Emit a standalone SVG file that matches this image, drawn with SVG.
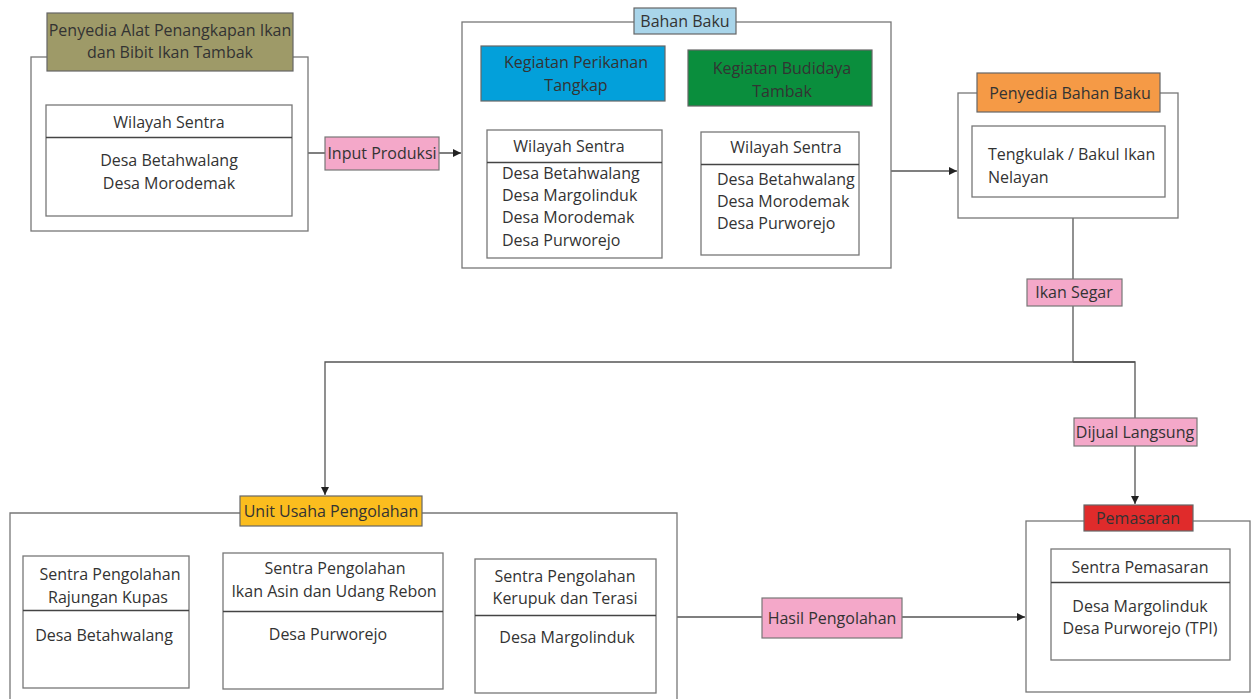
<svg xmlns="http://www.w3.org/2000/svg" width="1252" height="699" viewBox="0 0 1252 699">
<style>
text{font-family:"Open Sans","Noto Sans",sans-serif;font-size:16px;fill:#333}
.c{text-anchor:middle}
.box{fill:#fff;stroke:#777;stroke-width:1.3}
.hd{stroke:#666;stroke-width:1.2}
.div{stroke:#444;stroke-width:1.6}
.ln{fill:none;stroke:#555;stroke-width:1.3}
.pink{fill:#f4a8c9;stroke:#777;stroke-width:1.2}
</style>
<defs>
<marker id="ar" viewBox="0 0 10 10" refX="10" refY="5" markerWidth="8" markerHeight="8" markerUnits="userSpaceOnUse" orient="auto">
<path d="M0,0L10,5L0,10z" fill="#222"/>
</marker>
</defs>
<rect width="1252" height="699" fill="#fff"/>

<g id="connectors">
<path class="ln" d="M308,153H325M439,153H461" marker-end="url(#ar)"/>
<path class="ln" d="M891,171H957" marker-end="url(#ar)"/>
<path class="ln" d="M1073,218V362"/>
<path class="ln" d="M1135,362H325V495" marker-end="url(#ar)"/>
<path class="ln" d="M1073,362H1135V504" marker-end="url(#ar)"/>
<path class="ln" d="M677,617H1025" marker-end="url(#ar)"/>
<path class="ln" d="M559,101V130M776,106V132"/>
</g>

<g id="penyedia-alat">
<rect class="box" x="31" y="57" width="277" height="174"/>
<rect class="hd" x="47" y="13" width="246" height="58" fill="#9e9a68"/>
<text class="c" x="170" y="36">Penyedia Alat Penangkapan Ikan</text>
<text class="c" x="170" y="58">dan Bibit Ikan Tambak</text>
<rect class="box" x="46" y="105" width="246" height="111"/>
<line class="div" x1="46" y1="137.5" x2="292" y2="137.5"/>
<text class="c" x="169" y="128">Wilayah Sentra</text>
<text class="c" x="169" y="166">Desa Betahwalang</text>
<text class="c" x="169" y="189">Desa Morodemak</text>
</g>

<g id="input-produksi">
<rect class="pink" x="325" y="137" width="114" height="33"/>
<text class="c" x="382" y="159">Input Produksi</text>
</g>

<g id="bahan-baku">
<rect class="box" x="462" y="22" width="429" height="246"/>
<rect class="hd" x="634" y="8" width="102" height="26" fill="#a9d5ea"/>
<text class="c" x="685" y="27">Bahan Baku</text>
</g>

<g id="perikanan-tangkap">
<rect class="hd" x="481" y="46" width="184" height="55" fill="#03a0da"/>
<text class="c" x="576" y="68">Kegiatan Perikanan</text>
<text class="c" x="576" y="91">Tangkap</text>
<rect class="box" x="487" y="130" width="175" height="128"/>
<line class="div" x1="487" y1="162.5" x2="662" y2="162.5"/>
<text class="c" x="569" y="152">Wilayah Sentra</text>
<text x="502" y="179">Desa Betahwalang</text>
<text x="502" y="201">Desa Margolinduk</text>
<text x="502" y="223">Desa Morodemak</text>
<text x="502" y="246">Desa Purworejo</text>
</g>

<g id="budidaya-tambak">
<rect class="hd" x="688" y="50" width="184" height="56" fill="#0a8e3d"/>
<text class="c" x="782" y="74">Kegiatan Budidaya</text>
<text class="c" x="782" y="97">Tambak</text>
<rect class="box" x="701" y="132" width="158" height="123"/>
<line class="div" x1="701" y1="164.5" x2="859" y2="164.5"/>
<text class="c" x="786" y="153">Wilayah Sentra</text>
<text x="717" y="185">Desa Betahwalang</text>
<text x="717" y="207">Desa Morodemak</text>
<text x="717" y="229">Desa Purworejo</text>
</g>

<g id="penyedia-bahan-baku">
<rect class="box" x="958" y="93" width="220" height="125"/>
<rect class="hd" x="977" y="73" width="183" height="39" fill="#f59a46"/>
<text class="c" x="1070" y="99">Penyedia Bahan Baku</text>
<rect class="box" x="972" y="126" width="193" height="71"/>
<text x="988" y="160">Tengkulak / Bakul Ikan</text>
<text x="988" y="183">Nelayan</text>
</g>

<g id="ikan-segar">
<rect class="pink" x="1027" y="279" width="95" height="27"/>
<text class="c" x="1074" y="298">Ikan Segar</text>
</g>

<g id="dijual-langsung">
<rect class="pink" x="1074" y="418" width="123" height="28"/>
<text class="c" x="1135" y="438">Dijual Langsung</text>
</g>

<g id="unit-usaha">
<path class="box" d="M10,705V513H677V705"/>
<rect class="hd" x="240" y="496" width="182" height="30" fill="#fbbd1e"/>
<text class="c" x="331" y="517">Unit Usaha Pengolahan</text>
</g>

<g id="sentra-rajungan">
<rect class="box" x="23" y="556" width="166" height="132"/>
<line class="div" x1="23" y1="610.5" x2="189" y2="610.5"/>
<text class="c" x="110" y="580">Sentra Pengolahan</text>
<text class="c" x="108" y="603">Rajungan Kupas</text>
<text class="c" x="104" y="641">Desa Betahwalang</text>
</g>

<g id="sentra-ikan-asin">
<rect class="box" x="223" y="553" width="220" height="136"/>
<line class="div" x1="223" y1="611.5" x2="443" y2="611.5"/>
<text class="c" x="335" y="574">Sentra Pengolahan</text>
<text class="c" x="334" y="597">Ikan Asin dan Udang Rebon</text>
<text class="c" x="328" y="640">Desa Purworejo</text>
</g>

<g id="sentra-kerupuk">
<rect class="box" x="475" y="559" width="181" height="134"/>
<line class="div" x1="475" y1="615.5" x2="656" y2="615.5"/>
<text class="c" x="565" y="582">Sentra Pengolahan</text>
<text class="c" x="565" y="604">Kerupuk dan Terasi</text>
<text class="c" x="567" y="643">Desa Margolinduk</text>
</g>

<g id="hasil-pengolahan">
<rect class="pink" x="762" y="598" width="140" height="40"/>
<text class="c" x="832" y="624">Hasil Pengolahan</text>
</g>

<g id="pemasaran">
<rect class="box" x="1026" y="521" width="224" height="171"/>
<rect class="hd" x="1084" y="505" width="109" height="26" fill="#e02b2b"/>
<text class="c" x="1138" y="524">Pemasaran</text>
<rect class="box" x="1051" y="549" width="179" height="111"/>
<line class="div" x1="1051" y1="582.5" x2="1230" y2="582.5"/>
<text class="c" x="1140" y="573">Sentra Pemasaran</text>
<text class="c" x="1140" y="612">Desa Margolinduk</text>
<text class="c" x="1140" y="634">Desa Purworejo (TPI)</text>
</g>
</svg>
